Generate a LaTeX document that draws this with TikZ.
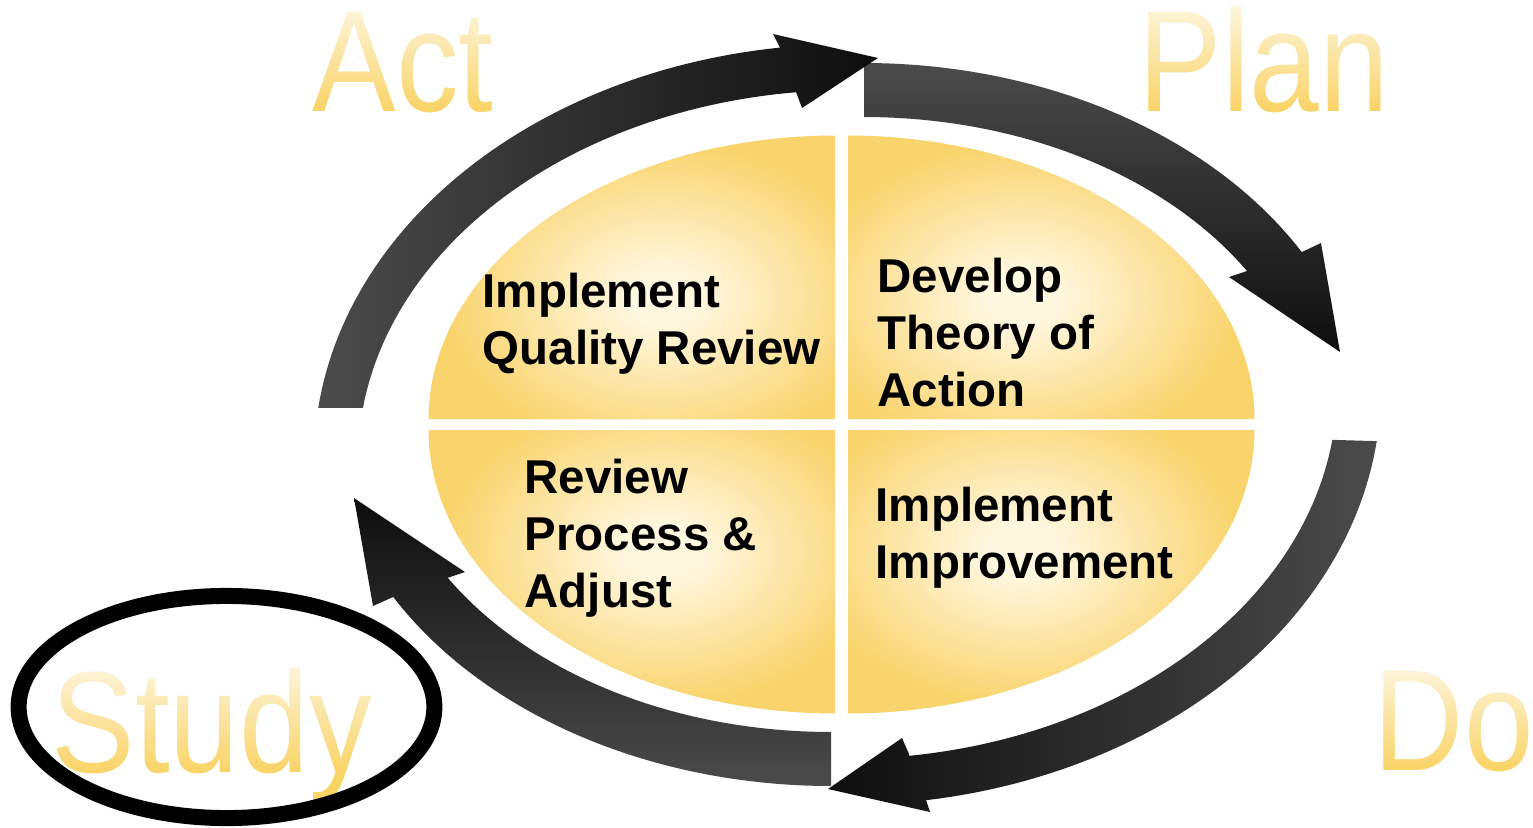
\documentclass[tikz,border=0pt]{standalone}
\usepackage{fontspec}
\setmainfont{Liberation Sans}
\usepackage{graphicx}
\definecolor{quadout}{HTML}{F9D46C}
\definecolor{quadin}{HTML}{FFF7E0}
\definecolor{arrgray}{HTML}{4B4B4B}
\definecolor{arrdark}{HTML}{0E0E0E}
\definecolor{wordbot}{HTML}{F9D467}
\pgfdeclareradialshading{quadglow}{\pgfpoint{0bp}{0bp}}{color(0bp)=(quadin); color(4bp)=(quadin); color(25bp)=(quadout); color(50bp)=(quadout)}
\newcommand{\bigscale}[1]{\scalebox{0.868}[1]{#1}}
\newcommand{\quadpath}[4]{(#1,#2) -- plot[domain=#3:#4,samples=60] ({#1+406.5*cos(\x)},{#2-283.5*sin(\x)}) -- cycle}
\newcommand{\quadrant}[6]{%
  \fill[quadout] \quadpath{#1}{#2}{#3}{#4};
  \begin{scope}
    \clip \quadpath{#1}{#2}{#3}{#4};
    \shade[shading=quadglow] (#5,#6) ellipse [x radius=2.2cm, y radius=1.55cm];
  \end{scope}}
% white veil that lightens the upper part of a word (on white ground it is invisible)
\newcommand{\wordveil}[4]{%
  \foreach \i in {0,...,29} {
    \pgfmathsetmacro\op{0.8*(1-(\i+0.5)/30)}
    \fill[white, fill opacity=\op] (#1,{#3+\i*(#4-#3)/30}) rectangle (#2,{#3+(\i+1)*(#4-#3)/30});
  }}
\begin{document}
\begin{tikzpicture}[x=0.01cm,y=-0.01cm,
  qtext/.style={font=\fontsize{13.5pt}{16.2pt}\selectfont\bfseries, align=left, inner sep=0pt, anchor=north west},
  bigtext/.style={font=\fontsize{41pt}{42pt}\selectfont, inner sep=0pt, anchor=base west, text=wordbot},
  ring/.style={draw=black, line width=4.55pt}
]
\useasboundingbox (0,0) rectangle (1533,827);
\fill[white] (0,0) rectangle (1533,827);

% quadrants
\quadrant{835}{419}{180}{90}{663}{298}
\quadrant{848}{419}{90}{0}{1021}{298}
\quadrant{835}{430}{180}{270}{663}{550}
\quadrant{848}{430}{0}{-90}{1021}{550}

% arrows
\shade[top color=arrgray,bottom color=arrdark]
  plot[domain=90:29.9,samples=60] ({864+505*cos(\x)},{440-377*sin(\x)})
  -- (1321,243) -- (1340,352) -- (1229,277) -- (1247,271)
  -- plot[domain=31.6:90,samples=60] ({864+449.5*cos(\x)},{440-323*sin(\x)}) -- cycle;
\shade[bottom color=arrgray,top color=arrdark]
  plot[domain=90:29.9,samples=60] ({831-505*cos(\x)},{409+377*sin(\x)})
  -- (373,606) -- (354,498) -- (465,572) -- (447,578)
  -- plot[domain=31.3:90,samples=60] ({831-449.5*cos(\x)},{409+323*sin(\x)}) -- cycle;
\shade[left color=arrgray,right color=arrdark]
  plot[domain=172.8:97.5,samples=60] ({850+536*cos(\x)},{460-416*sin(\x)})
  -- (773,34) -- (878,58) -- (802,108) -- (796,92)
  -- plot[domain=96.3:171.9,samples=60] ({850+492*cos(\x)},{460-370*sin(\x)}) -- cycle;
\shade[left color=arrdark,right color=arrgray]
  plot[domain=172.8:98.7,samples=60] ({845-536*cos(\x)},{389+416*sin(\x)})
  -- (930,812) -- (828,789) -- (902,738) -- (909,754)
  -- plot[domain=97.5:172.1,samples=60] ({845-492*cos(\x)},{389+370*sin(\x)}) -- cycle;

% quadrant texts
\node[qtext] (iqr) at (482,272) {Implement\\Quality Review};
\node[qtext] (dta) at (877,257) {Develop\\Theory of\\Action};
\node[qtext] (rpa) at (524,458) {Review\\Process \&\\Adjust};
\node[qtext] (iim) at (875,486) {Implement\\Improvement};

% big words
\node[bigtext] (act) at (312,111) {\bigscale{Act}};
\node[bigtext] (plan) at (1138,111) {\bigscale{Plan}};
\node[bigtext] (do) at (1373,770) {\bigscale{Do}};
\node[bigtext] (study) at (51,772) {\bigscale{Study}};
\wordveil{302}{503}{2}{111}
\wordveil{1129}{1395}{2}{111}
\wordveil{1362}{1533}{664}{770}
\wordveil{41}{382}{661}{772}

% ring around Study
\draw[ring] (226.5,707) ellipse [x radius=2.078cm, y radius=1.11cm];
\end{tikzpicture}
\end{document}
